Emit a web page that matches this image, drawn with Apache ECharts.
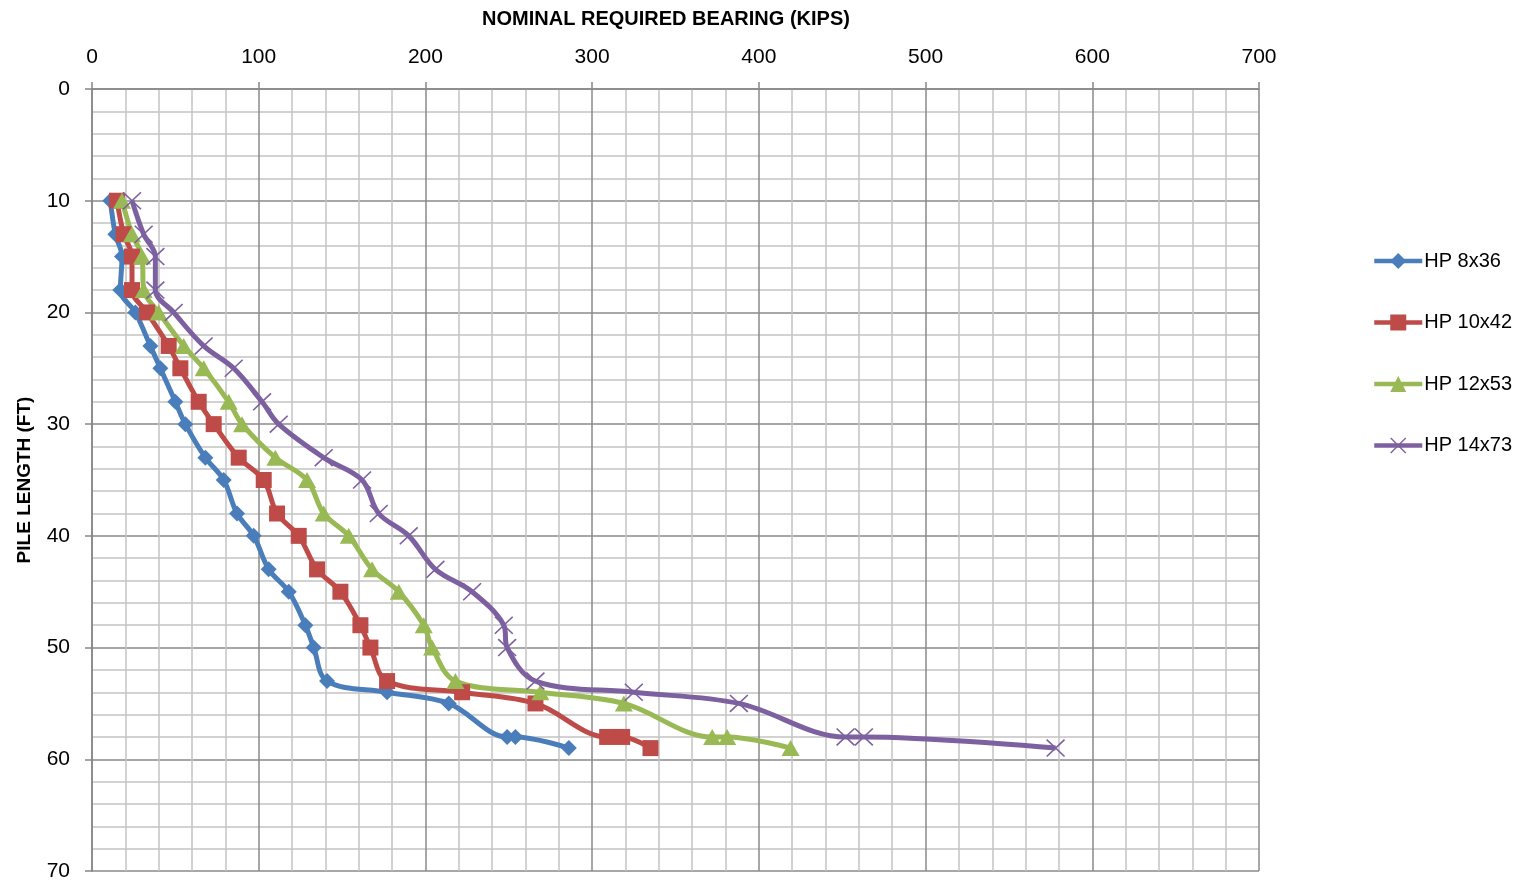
<!DOCTYPE html>
<html><head><meta charset="utf-8">
<script src="https://cdn.jsdelivr.net/npm/echarts@6/dist/echarts.min.js"></script>
<style>html,body{margin:0;padding:0;background:#fff}#c{width:1526px;height:882px}</style>
</head><body><div id="c"></div>
<script>
// Pile length (ft) for each reading
const depths = [10,13,15,18,20,23,25,28,30,33,35,38,40,43,45,48,50,53,54,55,58,58,59];
// Nominal required bearing (kips)
const hp8x36  = [11,14,18,17,26,35,41,50,56,68,79,87,97,106,118,128,133,141,177,214,249,254,286];
const hp10x42 = [15,19,24,24,33,46,53,64,73,88,103,111,124,135,149,161,167,177,222,266,309,318,335];
const hp12x53 = [18,24,30,31,40,55,67,82,90,110,129,139,154,168,184,199,204,218,269,319,372,381,419];
const hp14x73 = [24,31,38,38,49,67,85,102,112,139,162,172,190,206,228,247,249,266,325,388,452,463,578];
const seriesNames = ['HP 8x36','HP 10x42','HP 12x53','HP 14x73'];
const xTitle = 'NOMINAL REQUIRED BEARING (KIPS)';
const yTitle = 'PILE LENGTH (FT)';
const xMin = 0, xMax = 700, xStep = 100;
const yMin = 0, yMax = 70, yStep = 10;

const FONT = 'Liberation Sans';
const colors = ['#4A7EBB','#BE4B48','#98B954','#7D60A0'];
const xPath = 'path://M0,0.6L0.6,0L10,9.4L9.4,10Z M9.4,0L10,0.6L0.6,10L0,9.4Z';
const symbols = ['diamond','rect','triangle', xPath];
const sizes = [16, 16, [18,16], [19,18]];
const values = [hp8x36, hp10x42, hp12x53, hp14x73];

const chart = echarts.init(document.getElementById('c'), null, {renderer:'canvas'});
chart.setOption({
  animation:false,
  backgroundColor:'#fff',
  grid:{left:92, right:267, top:89, bottom:11},
  xAxis:{
    type:'value', position:'top', min:xMin, max:xMax, interval:xStep,
    axisLine:{show:true, lineStyle:{color:'#868686', width:1.5}},
    axisTick:{show:true, length:7, lineStyle:{color:'#868686', width:1.5}},
    axisLabel:{color:'#000', fontFamily:FONT, fontSize:21, margin:21},
    splitLine:{show:true, lineStyle:{color:'#8a8a8a', width:1.5}},
    minorTick:{show:false, splitNumber:5},
    minorSplitLine:{show:true, lineStyle:{color:'#c4c4c4', width:1.5}}
  },
  yAxis:{
    type:'value', inverse:true, min:yMin, max:yMax, interval:yStep,
    axisLine:{show:true, lineStyle:{color:'#868686', width:1.5}},
    axisTick:{show:true, length:7, lineStyle:{color:'#868686', width:1.5}},
    axisLabel:{color:'#000', fontFamily:FONT, fontSize:21, margin:22},
    splitLine:{show:true, lineStyle:{color:'#8a8a8a', width:1.5}},
    minorTick:{show:false, splitNumber:5},
    minorSplitLine:{show:true, lineStyle:{color:'#c4c4c4', width:1.5}}
  },
  legend:{
    orient:'vertical', left:1372, top:251, padding:0, itemWidth:48, itemHeight:20, itemGap:41.5,
    lineStyle:{width:4.5},
    textStyle:{color:'#000', fontFamily:FONT, fontSize:20, lineHeight:20, padding:[0,0,0,-3]},
    data:seriesNames
  },
  graphic:[
    {type:'text', x:666, y:19, style:{text:xTitle, fontFamily:FONT, fontWeight:'bold', fontSize:20, fill:'#000', align:'center', verticalAlign:'middle'}},
    {type:'text', x:25, y:480, rotation:Math.PI/2, style:{text:yTitle, fontFamily:FONT, fontWeight:'bold', fontSize:19, fill:'#000', align:'center', verticalAlign:'middle'}}
  ],
  series: values.map((vals,i)=>({
    name:seriesNames[i], type:'line', smooth:0.35,
    data: vals.map((v,k)=>[v, depths[k]]),
    symbol:symbols[i], symbolSize:sizes[i],
    lineStyle:{color:colors[i], width:5},
    itemStyle:{color:colors[i]},
    emphasis:{disabled:true}
  }))
});
</script></body></html>
